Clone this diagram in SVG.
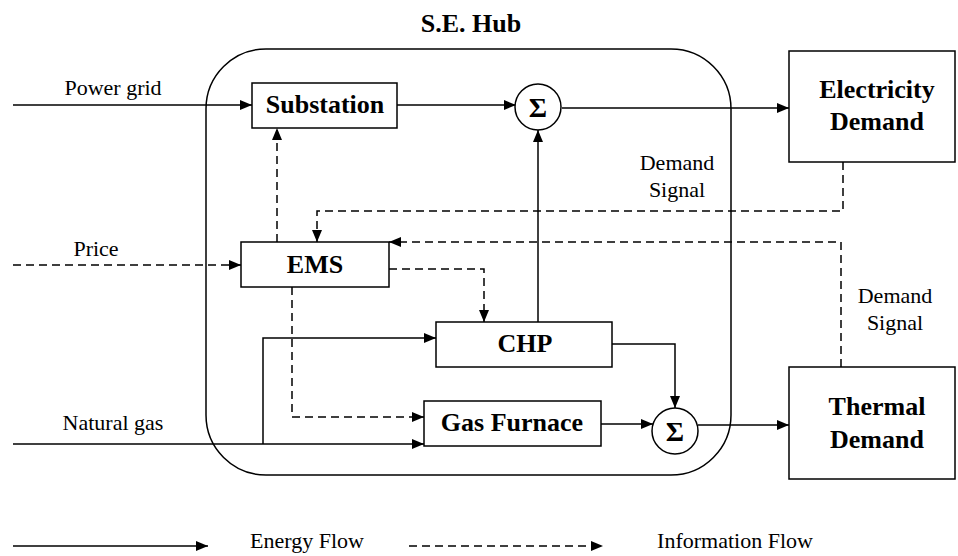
<svg xmlns="http://www.w3.org/2000/svg" width="958" height="556" viewBox="0 0 958 556">
<style>
.box{fill:#fff;stroke:#000;stroke-width:1.5}
.hub{fill:none;stroke:#000;stroke-width:1.5}
.e{fill:none;stroke:#000;stroke-width:1.5;marker-end:url(#ah)}
.i{fill:none;stroke:#000;stroke-width:1.5;stroke-dasharray:8 5;marker-end:url(#ah)}
text{font-family:"Times New Roman","Liberation Serif",Tinos,"DejaVu Serif",serif;text-anchor:middle;fill:#000}
.b{font-weight:bold;font-size:26px}
.t{font-size:22px}
.s{font-weight:bold;font-size:28px}
</style>
<defs>
<marker id="ah" markerUnits="userSpaceOnUse" markerWidth="12" markerHeight="10" refX="12" refY="5" orient="auto">
<path d="M0,0 L12,5 L0,10 Z" fill="#000"/>
</marker>
</defs>
<rect width="958" height="556" fill="#fff"/>
<g id="hub">
<rect class="hub" x="206" y="49" width="525" height="426" rx="60" ry="60"/>
<text class="b" x="471" y="32">S.E. Hub</text>
</g>
<g id="connectors">
<path class="e" d="M13,105 H252"/>
<path class="e" d="M397,105 H516"/>
<path class="e" d="M562,108 H789"/>
<path class="e" d="M538,322 V130"/>
<path class="e" d="M13,444 H424"/>
<path class="e" d="M263,444 V338 H436"/>
<path class="e" d="M612,344 H675 V408"/>
<path class="e" d="M601,424 H653"/>
<path class="e" d="M698,425 H789"/>
<path class="i" d="M13,265 H241"/>
<path class="i" d="M277,242 V128"/>
<path class="i" d="M843,162 V211 H317 V242"/>
<path class="i" d="M841,367 V242 H389"/>
<path class="i" d="M389,269 H484 V322"/>
<path class="i" d="M292,287 V417 H424"/>
</g>
<g id="labels">
<text class="t" x="113" y="95">Power grid</text>
<text class="t" x="96" y="256">Price</text>
<text class="t" x="113" y="430">Natural gas</text>
<text class="t" x="677" y="170">Demand</text>
<text class="t" x="677" y="197">Signal</text>
<text class="t" x="895" y="303">Demand</text>
<text class="t" x="895" y="330">Signal</text>
</g>
<g id="substation">
<rect class="box" x="252" y="83" width="145" height="45"/>
<text class="b" x="325" y="113">Substation</text>
</g>
<g id="sigma1">
<circle class="box" cx="538" cy="107" r="23"/>
<text class="s" x="538" y="117">Σ</text>
</g>
<g id="electricity">
<rect class="box" x="789" y="51" width="166" height="111"/>
<text class="b" x="877" y="98">Electricity</text>
<text class="b" x="877" y="130">Demand</text>
</g>
<g id="ems">
<rect class="box" x="241" y="242" width="148" height="45"/>
<text class="b" x="315" y="273">EMS</text>
</g>
<g id="chp">
<rect class="box" x="436" y="322" width="176" height="45"/>
<text class="b" x="525" y="352">CHP</text>
</g>
<g id="furnace">
<rect class="box" x="424" y="401" width="177" height="45"/>
<text class="b" x="512" y="431">Gas Furnace</text>
</g>
<g id="sigma2">
<circle class="box" cx="675" cy="431" r="23"/>
<text class="s" x="675" y="441">Σ</text>
</g>
<g id="thermal">
<rect class="box" x="789" y="367" width="166" height="112"/>
<text class="b" x="877" y="415">Thermal</text>
<text class="b" x="877" y="448">Demand</text>
</g>
<g id="legend">
<path class="e" d="M13,546 H208"/>
<text class="t" x="307" y="548">Energy Flow</text>
<path class="i" d="M409,546 H603"/>
<text class="t" x="735" y="548">Information Flow</text>
</g>
</svg>
